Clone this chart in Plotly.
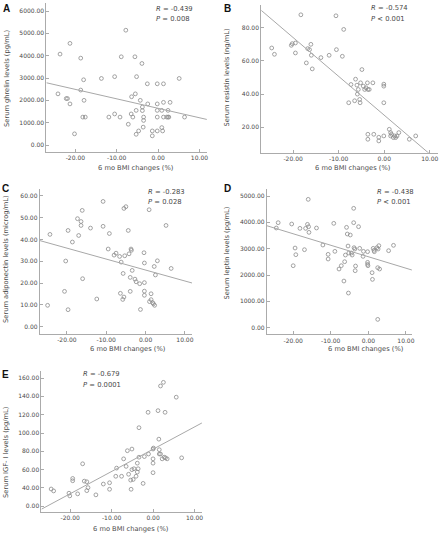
import numpy as np
import plotly.graph_objects as go

W, H = 446, 536

# ---------------- data ----------------
# A: ghrelin
a_bmi = [-24.2, -23.7, -21.3, -22.2, -21.9, -21.3, -20.2, -18.7, -18.7, -18.0, -17.9, -18.2, -17.6,
         -13.7, -11.9, -10.5, -10.5, -9.2, -8.9, -7.8, -7.2, -6.5, -6.1, -6.4, -5.6, -5.5, -5.3, -5.2,
         -5.3, -4.7, -4.3, -3.9, -3.8, -3.8, -3.6, -3.5, -3.5, -2.5, -2.6, -1.4, -1.4, -0.2, -0.2,
         -0.2, -0.2, -0.2, 0.9, 0.9, 1.1, 1.3, 1.3, 1.3, 2.1, 2.4, 2.6, 2.4, 2.9, 5.1, 6.4]
a_val = [2290, 4070, 4550, 2080, 2080, 1840, 500, 3890, 2460, 2920, 2000, 1250, 1250,
         2980, 1250, 3060, 1390, 1250, 3950, 5140, 930, 1390, 1250, 2160, 3950, 2290, 1550, 3060,
         480, 630, 2000, 3650, 1700, 1540, 800, 1250, 1100, 1840, 2740, 630, 410, 2740, 1840,
         1550, 1250, 630, 1550, 780, 630, 2740, 1910, 1250, 1250, 1250, 1250, 1550, 1910, 2980, 1250]

# B: resistin
b_bmi = [-24.7, -24.1, -20.4, -20.2, -19.5, -19.5, -18.3, -17.1, -16.8, -16.4, -16.1, -16.0, -15.8,
         -13.9, -12.1, -10.6, -10.5, -9.2, -8.9, -7.8, -7.3, -6.5, -6.3, -6.0, -5.9, -5.7, -5.4,
         -5.3, -5.2, -4.9, -4.6, -4.3, -4.0, -3.7, -3.6, -3.6, -3.6, -3.3, -2.5, -2.3, -1.2, -1.2,
         -0.1, -0.1, -0.1, -0.1, 1.1, 1.4, 1.4, 1.6, 2.0, 2.3, 2.5, 2.8, 3.2, 5.5, 6.9]
b_val = [67.8, 64.0, 69.4, 70.4, 70.8, 64.8, 87.8, 58.8, 67.4, 66.8, 70.0, 63.4, 55.2,
         62.0, 63.4, 87.2, 66.8, 62.8, 79.0, 34.8, 45.8, 36.0, 49.0, 45.4, 40.0, 42.8, 36.8,
         34.8, 46.8, 54.8, 44.8, 42.8, 43.8, 46.8, 42.8, 15.8, 12.8, 42.8, 46.8, 15.8, 14.0, 11.8,
         46.0, 44.8, 34.8, 14.8, 18.8, 16.8, 14.8, 15.8, 13.8, 14.8, 13.8, 14.8, 16.8, 12.8, 14.8]

# C: adiponectin
c_bmi = [-24.9, -24.3, -20.6, -20.3, -19.7, -19.7, -18.6, -17.3, -17.0, -16.4, -16.4, -16.1, -16.0,
         -14.0, -12.4, -10.8, -10.8, -9.5, -9.2, -8.0, -7.5, -6.6, -6.4, -6.2, -5.8, -5.7, -5.5,
         -5.5, -5.0, -5.3, -4.4, -4.2, -3.9, -3.9, -3.7, -3.6, -3.4, -2.7, -2.4, -1.5, -1.3, -0.4,
         -0.3, -0.3, -0.3, -0.3, 0.9, 1.0, 1.4, 1.4, 1.8, 2.0, 2.3, 2.2, 2.5, 3.0, 5.2, 6.5]
c_val = [9.8, 42.3, 16.2, 30.1, 44.1, 7.8, 38.8, 49.5, 41.8, 48.2, 46.4, 53.3, 22.0,
         45.2, 12.7, 57.4, 46.0, 35.6, 42.7, 32.8, 33.7, 32.2, 15.3, 29.6, 12.5, 24.4, 13.6,
         54.2, 55.0, 32.5, 44.1, 33.4, 16.2, 22.6, 35.6, 35.0, 25.8, 21.8, 20.6, 19.7, 7.9, 33.9,
         29.2, 20.2, 16.3, 14.4, 53.6, 11.5, 15.1, 12.4, 11.0, 10.5, 9.8, 27.6, 23.7, 30.2, 46.4, 26.7]

# D: leptin
d_bmi = [-24.5, -24.0, -20.4, -20.0, -19.5, -19.3, -18.2, -17.0, -16.7, -16.2, -16.0, -15.9, -15.8,
         -13.8, -12.1, -10.7, -10.7, -9.2, -8.9, -7.8, -7.2, -6.5, -6.3, -6.1, -5.8, -5.6, -5.4,
         -5.3, -5.2, -4.8, -4.5, -4.3, -3.9, -3.9, -3.8, -3.6, -3.5, -3.4, -2.6, -2.3, -1.4, -1.3,
         -0.2, -0.2, -0.2, -0.1, 1.0, 1.1, 1.3, 1.5, 1.6, 2.3, 2.5, 2.5, 2.6, 2.8, 3.0, 5.4, 6.7]
d_val = [3785, 3987, 3937, 2354, 3025, 2772, 3772, 2962, 3772, 3924, 4873, 3835, 3620,
         3785, 3139, 2785, 2608, 3962, 2899, 2228, 2354, 1772, 2506, 2759, 3810, 3557, 3101,
         1316, 2835, 3519, 2835, 2759, 4532, 3987, 3038, 2987, 2165, 2342, 3835, 3013, 2709, 2899,
         2886, 2481, 2405, 2354, 2089, 1835, 3013, 2937, 2886, 3038, 2278, 316, 2987, 3114, 2228, 2924, 3127]

# E: IGF-I
e_bmi = [-24.6, -24.0, -20.3, -20.1, -19.4, -19.4, -18.2, -17.0, -16.6, -16.0, -16.0, -15.7,
         -13.8, -12.0, -10.5, -10.5, -9.0, -8.8, -7.6, -7.1, -6.5, -6.2, -5.9, -5.4, -5.3, -5.1,
         -5.1, -4.8, -4.6, -4.1, -3.8, -3.8, -3.6, -3.4, -3.4, -2.4, -2.1, -1.2, -1.1, 0.0, 0.1,
         0.0, 0.0, 0.0, 1.2, 1.4, 1.5, 1.5, 1.8, 1.8, 2.2, 2.5, 2.7, 2.9, 3.0, 3.4, 5.6, 6.9]
e_val = [38.9, 36.8, 34.3, 31.4, 50.4, 47.9, 33.6, 66.4, 47.5, 46.8, 37.1, 40.4,
         32.5, 44.3, 45.7, 38.6, 52.8, 61.7, 52.8, 71.8, 63.6, 80.7, 55.0, 48.6, 38.6, 82.5,
         60.0, 49.3, 61.0, 52.8, 57.4, 67.1, 61.0, 105.8, 73.6, 45.0, 74.3, 122.6, 77.1, 82.5, 83.6,
         71.8, 67.1, 56.7, 124.4, 93.3, 81.8, 77.1, 151.3, 77.1, 71.8, 155.3, 73.6, 122.6, 72.9, 71.8, 139.1, 72.9]

y_titles = ["Serum ghrelin levels (pg/mL)", "Serum resistin levels (ng/mL)",
            "Serum adiponectin levels (microg/mL)", "Serum leptin levels (pg/mL)",
            "Serum IGF- \u2160 levels (pg/mL)"]
x_title = "6 mo BMI changes (%)"
panel_letters = ["A", "B", "C", "D", "E"]
r_texts = ["-0.439", "-0.574", "-0.283", "-0.438", "-0.679"]
p_texts = ["= 0.008", "< 0.001", "= 0.028", "< 0.001", "= 0.0001"]

ticks_a = [0, 1000, 2000, 3000, 4000, 5000, 6000]
ticks_b = [20, 40, 60, 80]
ticks_c = [0, 10, 20, 30, 40, 50, 60]
ticks_d = [0, 1000, 2000, 3000, 4000, 5000]
ticks_e = [20, 40, 60, 80, 100, 120, 140, 160]
ticktext_e = ["0.00", "40.00", "60.00", "80.00", "100.00", "120.00", "140.00", "160.00"]
x_ticks = [-20, -10, 0, 10]

# ---------------- layout geometry (pixels) ----------------
panels = [
    dict(x=a_bmi, y=a_val, px=(46.7, 208.3), py=(3, 152), xr=[-27.0, 11.8], yr=[-313, 6358],
         yt=ticks_a, ytt=None, letter=(7, 8), ytitle=(7, 78), xtitle=(137, 168), rp=(155, 9)),
    dict(x=b_bmi, y=b_val, px=(263, 441), py=(5, 152.7), xr=[-27.0, 11.8], yr=[4.7, 93.7],
         yt=ticks_b, ytt=None, letter=(229, 8), ytitle=(229, 77), xtitle=(355, 168), rp=(371, 8.5)),
    dict(x=c_bmi, y=c_val, px=(40, 193.3), py=(189, 333.7), xr=[-26.9, 11.8], yr=[-3.2, 63.1],
         yt=ticks_c, ytt=None, letter=(6, 188), ytitle=(6, 259), xtitle=(129, 349), rp=(147, 191.7)),
    dict(x=d_bmi, y=d_val, px=(268.7, 414.7), py=(189, 334.3), xr=[-27.0, 11.6], yr=[-250, 5266],
         yt=ticks_d, ytt=None, letter=(229, 188), ytitle=(229, 253), xtitle=(368, 348.5), rp=(378, 191.7)),
    dict(x=e_bmi, y=e_val, px=(41.7, 203.3), py=(370.7, 512), xr=[-26.95, 11.8], yr=[13.8, 168],
         yt=ticks_e, ytt=ticktext_e, letter=(6, 374), ytitle=(6, 452), xtitle=(132, 529), rp=(82, 374.3)),
]

FONT = "DejaVu Sans"
AX_COL = "#ababab"
TXT_COL = "#4a4a4a"

fig = go.Figure()
layout = dict(width=W, height=H, margin=dict(l=0, r=0, t=0, b=0),
              paper_bgcolor="white", plot_bgcolor="white", showlegend=False)
annotations = []

def px2x(v):
    return v / W

def px2y(v):
    return 1 - v / H

for i, p in enumerate(panels):
    n = "" if i == 0 else str(i + 1)
    xa, ya = "x" + n, "y" + n
    fig.add_trace(go.Scatter(
        x=p["x"], y=p["y"], mode="markers", xaxis=xa, yaxis=ya,
        marker=dict(symbol="circle-open", size=3.8, color="#8c8c8c", line=dict(width=0.8)),
        cliponaxis=False, hoverinfo="skip"))
    slope, icpt = np.polyfit(np.array(p["x"]), np.array(p["y"]), 1)
    lx = np.array(p["xr"])
    fig.add_trace(go.Scatter(
        x=lx, y=slope * lx + icpt, mode="lines", xaxis=xa, yaxis=ya,
        line=dict(color="#a8a8a8", width=1), hoverinfo="skip"))

    common = dict(showline=True, linecolor=AX_COL, linewidth=1, showgrid=False, zeroline=False,
                  tickcolor=AX_COL, ticklen=3, tickwidth=1, ticks="inside",
                  tickfont=dict(family=FONT, size=6, color=TXT_COL))
    layout["xaxis" + n] = dict(common, domain=[px2x(p["px"][0]), px2x(p["px"][1])], range=p["xr"],
                               anchor=ya, tickvals=x_ticks,
                               ticktext=["%.2f" % v for v in x_ticks])
    ytt = p["ytt"] if p["ytt"] else ["%.2f" % v for v in p["yt"]]
    layout["yaxis" + n] = dict(common, domain=[px2y(p["py"][1]), px2y(p["py"][0])], range=p["yr"],
                               anchor=xa, tickvals=p["yt"], ticktext=ytt)

    annotations.append(dict(text="<b>%s</b>" % panel_letters[i], x=px2x(p["letter"][0]), y=px2y(p["letter"][1]),
                            xref="paper", yref="paper", showarrow=False, xanchor="center", yanchor="middle",
                            font=dict(family="Liberation Sans", size=10, color="#111")))
    annotations.append(dict(text=y_titles[i], x=px2x(p["ytitle"][0]), y=px2y(p["ytitle"][1]),
                            xref="paper", yref="paper", showarrow=False, textangle=-90,
                            xanchor="center", yanchor="middle",
                            font=dict(family=FONT, size=6.7, color=TXT_COL)))
    annotations.append(dict(text=x_title, x=px2x(p["xtitle"][0]), y=px2y(p["xtitle"][1]),
                            xref="paper", yref="paper", showarrow=False, xanchor="center", yanchor="middle",
                            font=dict(family=FONT, size=6.7, color=TXT_COL)))
    annotations.append(dict(text="<i>R</i> = %s" % r_texts[i], x=px2x(p["rp"][0]), y=px2y(p["rp"][1]),
                            xref="paper", yref="paper", showarrow=False, xanchor="left", yanchor="middle",
                            font=dict(family=FONT, size=6.8, color=TXT_COL)))
    annotations.append(dict(text="<i>P</i> %s" % p_texts[i], x=px2x(p["rp"][0]), y=px2y(p["rp"][1] + 10.5),
                            xref="paper", yref="paper", showarrow=False, xanchor="left", yanchor="middle",
                            font=dict(family=FONT, size=6.8, color=TXT_COL)))

layout["annotations"] = annotations
fig.update_layout(**layout)
# remove the browser's default 8px body margin so the figure sits at the window origin
fig.write_html("out.html",
               config={"displayModeBar": False, "staticPlot": True},
               post_script="document.body.style.margin='0';document.body.style.overflow='hidden';")
